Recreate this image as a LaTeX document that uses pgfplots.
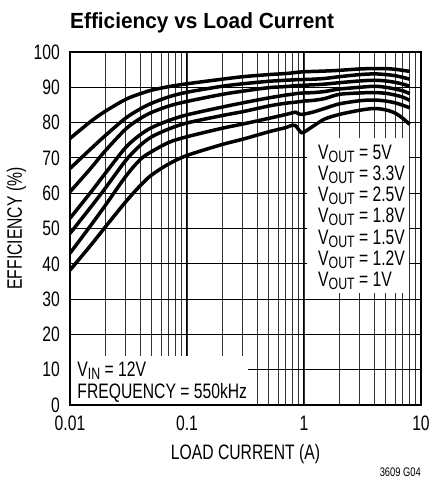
\documentclass[border=0pt]{standalone}
\usepackage{fontspec}
\setmainfont{Liberation Sans}[FakeStretch=0.75]
\newfontfamily\titlefont{Liberation Sans}[FakeStretch=0.95]
\usepackage{pgfplots}
\usepackage{pgfplotstable}
\pgfplotsset{compat=1.18}

% efficiency (%) vs load current (A), one column per output voltage
\pgfplotstableread{
x     v50   v33   v25   v18   v15   v12   v10
0.01  75.5  67.0  60.4  52.9  48.6  43.0  38.2
0.015 80.3  72.5  67.0  60.2  56.0  50.8  45.2
0.02  83.2  76.3  72.0  65.6  61.4  56.5  50.4
0.03  86.6  81.3  78.2  73.0  69.3  64.8  57.6
0.04  88.2  83.9  81.2  76.6  73.6  69.6  62.2
0.05  89.2  85.5  82.9  78.6  76.0  71.8  65.2
0.07  90.2  87.3  84.7  80.6  78.2  74.4  68.3
0.1   91.0  88.6  86.0  82.2  79.9  76.0  70.7
0.2   92.3  90.3  88.0  84.4  82.0  78.4  73.8
0.3   93.0  91.0  88.9  85.6  83.1  79.6  75.3
0.5   93.6  91.7  89.9  87.0  84.7  81.2  77.4
0.7   93.9  92.0  90.2  87.8  85.5  82.3  78.6
0.8   94.1  92.1  90.4  88.05 85.7  82.8  79.3
0.85  94.2  92.15 90.45 88.2  85.8  82.95 79.1
0.9   94.3  92.2  90.5  88.3  85.9  82.5  78.0
0.95  94.35 92.2  90.55 88.35 86.0  82.3  77.1
1     94.4  92.2  90.6  88.4  86.1  82.4  77.3
1.2   94.5  92.3  90.7  88.5  86.3  83.0  79.0
1.5   94.6  92.5  90.9  88.8  86.8  84.0  81.0
2     94.8  93.0  91.3  89.5  88.0  85.3  82.3
3     95.2  93.6  91.8  90.0  88.4  86.2  83.5
4     95.3  93.8  92.0  90.3  88.5  86.4  84.0
5     95.3  93.6  91.8  90.0  88.3  86.1  83.6
6     95.1  93.3  91.4  89.5  87.8  85.6  82.7
7     94.8  92.8  90.9  89.0  87.2  84.9  81.2
8     94.5  92.3  90.3  88.2  86.3  84.2  79.5
}\effdata

\newcommand\lab{\fontsize{21}{22}\selectfont}
\newcommand\sub[1]{\raisebox{-3bp}{\fontsize{16.5}{16.5}\selectfont #1}}

\begin{document}
\begin{tikzpicture}
\begin{axis}[
  scale only axis, width=351bp, height=353bp,
  xmode=log, xmin=0.01, xmax=10, ymin=0, ymax=100,
  xtick={0.01,0.1,1,10}, xticklabels={0.01,0.1,1,10},
  ytick={0,10,...,100},
  grid=both,
  major grid style={black, line width=1bp},
  minor grid style={black!80, line width=0.9bp},
  major tick length=0pt, minor tick length=0pt,
  axis line style={line width=1.5bp},
  tick label style={font=\lab},
  /pgf/number format/assume math mode=true,
  yticklabel style={anchor=east, inner sep=0pt, xshift=-10bp},
  xticklabel style={anchor=base, inner sep=0pt, yshift=-25bp},
  effline/.style={black, solid, line width=3.5bp, no markers, smooth, tension=0.5, line join=round},
]
\fill[white] ([shift={(0.8bp,0.8bp)}]rel axis cs:0,0) rectangle (rel axis cs:0.507,0.139);
\fill[white] (rel axis cs:0.675,0.317) rectangle (rel axis cs:0.966,0.756);
\addplot[effline] table[x=x, y=v50] {\effdata};
\addplot[effline] table[x=x, y=v33] {\effdata};
\addplot[effline] table[x=x, y=v25] {\effdata};
\addplot[effline] table[x=x, y=v18] {\effdata};
\addplot[effline] table[x=x, y=v15] {\effdata};
\addplot[effline] table[x=x, y=v12] {\effdata};
\addplot[effline] table[x=x, y=v10] {\effdata};
\coordinate (O) at (rel axis cs:0,0);
\end{axis}

\node[anchor=base west, inner sep=0pt, font=\titlefont\bfseries\fontsize{22}{22}\selectfont]
  at ([shift={(0bp,376.7bp)}]O) {Efficiency vs Load Current};
\node[anchor=base, inner sep=0pt, font=\lab] at ([shift={(175.5bp,-54bp)}]O) {LOAD CURRENT (A)};
\node[anchor=base, inner sep=0pt, rotate=90, font=\lab] at ([shift={(-48bp,176.5bp)}]O) {EFFICIENCY (\%)};
\node[anchor=base east, inner sep=0pt, font=\fontsize{12.5}{13}\selectfont] at ([shift={(351bp,-71bp)}]O) {3609 G04};

\foreach \v [count=\i from 0] in {5V,3.3V,2.5V,1.8V,1.5V,1.2V,1V}
  \node[anchor=base west, inner sep=0pt, font=\lab] at ([shift={(248bp,245.7bp-21.2bp*\i)}]O) {V\sub{OUT} = \v};

\node[anchor=base west, inner sep=0pt, font=\lab] at ([shift={(7.3bp,29bp)}]O) {V\sub{IN} = 12V};
\node[anchor=base west, inner sep=0pt, font=\lab] at ([shift={(7.3bp,6.7bp)}]O) {FREQUENCY = 550kHz};

\pgfresetboundingbox
\path ([shift={(-70bp,-76bp)}]O) rectangle ([shift={(362bp,405bp)}]O);
\end{tikzpicture}
\end{document}
